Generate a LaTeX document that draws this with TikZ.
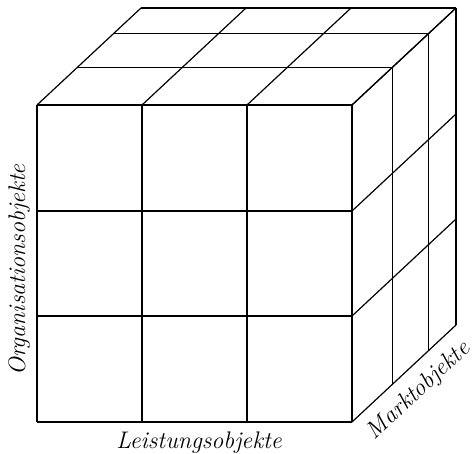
\documentclass[tikz,border=0pt]{standalone}
\usepackage{tikz}
\usetikzlibrary{positioning, calc}

\begin{document}
\begin{tikzpicture}[
  x=1pt, y=-1pt,
  cubeline/.style={line width=1.2pt, line join=round},
  axislabel/.style={font=\fontsize{24}{28}\selectfont\itshape, inner sep=0pt}
]
  \useasboundingbox (0,0) rectangle (474,454);
  % front face
  \foreach \x in {37,142,247,352} \draw[cubeline] (\x,105) -- (\x,422);
  \foreach \y in {105,211,316,422} \draw[cubeline] (37,\y) -- (352,\y);
  % top face
  \foreach \f in {0.39,0.735,1} \draw[cubeline] ($(37,105)+\f*(104,-97)$) -- ($(352,105)+\f*(104,-97)$);
  \foreach \x in {37,142,247,352} \draw[cubeline] (\x,105) -- ++(104,-97);
  % right face
  \foreach \f in {0.39,0.735,1} \draw[cubeline] ($(352,105)+\f*(104,-97)$) -- ($(352,422)+\f*(104,-97)$);
  \foreach \y in {105,211,316,422} \draw[cubeline] (352,\y) -- ++(104,-97);
  % labels
  \node[axislabel] (leistung) at (199,443) {Leistungsobjekte};
  \node[axislabel, rotate=90] (organisation) at (19,270) {Organisationsobjekte};
  \node[axislabel, rotate=43] (markt) at (419,391) {Marktobjekte};
\end{tikzpicture}
\end{document}
